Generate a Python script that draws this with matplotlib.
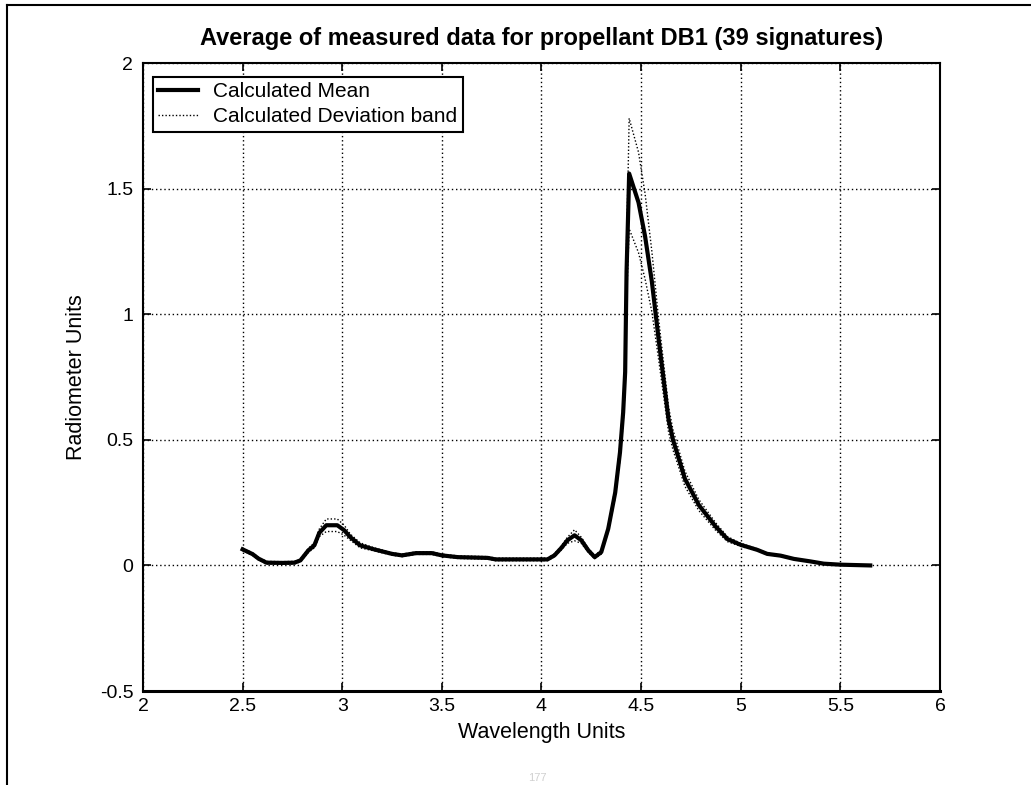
import matplotlib
matplotlib.use("Agg")
import matplotlib.pyplot as plt
from matplotlib.lines import Line2D
import numpy as np

plt.rcParams['font.family'] = ['Liberation Sans', 'DejaVu Sans']

# wavelength samples
wavelength = [2.50, 2.55, 2.58, 2.62, 2.70, 2.76, 2.79, 2.83, 2.86, 2.885,
              2.92, 2.975, 3.01, 3.04, 3.09, 3.16, 3.25, 3.30, 3.37, 3.45,
              3.50, 3.58, 3.73, 3.77, 3.91, 4.03, 4.065, 4.10, 4.13, 4.166,
              4.20, 4.235, 4.267, 4.30, 4.335, 4.37, 4.394, 4.41, 4.42, 4.427,
              4.436, 4.44, 4.487, 4.52, 4.554, 4.588, 4.638, 4.66, 4.72, 4.79,
              4.874, 4.933, 5.00, 5.083, 5.133, 5.20, 5.267, 5.35, 5.417, 5.50,
              5.65]

mean_signal = [0.064, 0.045, 0.027, 0.011, 0.010, 0.011, 0.020, 0.060, 0.080, 0.130,
               0.160, 0.160, 0.140, 0.113, 0.080, 0.064, 0.046, 0.040, 0.049, 0.049,
               0.040, 0.033, 0.030, 0.024, 0.024, 0.024, 0.040, 0.070, 0.100, 0.120,
               0.100, 0.060, 0.033, 0.053, 0.146, 0.290, 0.450, 0.610, 0.770, 1.170,
               1.430, 1.560, 1.445, 1.310, 1.130, 0.900, 0.580, 0.500, 0.345, 0.240,
               0.155, 0.105, 0.082, 0.062, 0.046, 0.039, 0.026, 0.016, 0.007, 0.003,
               0.000]

deviation = [0.005, 0.005, 0.005, 0.005, 0.005, 0.005, 0.005, 0.008, 0.010, 0.015,
             0.025, 0.025, 0.020, 0.012, 0.010, 0.006, 0.005, 0.005, 0.005, 0.005,
             0.005, 0.005, 0.005, 0.005, 0.005, 0.005, 0.006, 0.008, 0.012, 0.022,
             0.012, 0.008, 0.006, 0.008, 0.012, 0.020, 0.030, 0.040, 0.060, 0.120,
             0.180, 0.220, 0.200, 0.170, 0.120, 0.080, 0.050, 0.040, 0.030, 0.022,
             0.015, 0.010, 0.006, 0.004, 0.003, 0.003, 0.003, 0.002, 0.002, 0.002,
             0.002]

xticks = [2, 2.5, 3, 3.5, 4, 4.5, 5, 5.5, 6]
yticks = [-0.5, 0, 0.5, 1, 1.5, 2]

wl = np.array(wavelength)
mean = np.array(mean_signal)
dev = np.array(deviation)

fig = plt.figure(figsize=(10.31, 7.85), dpi=100)
ax = fig.add_axes([0.1387, 0.1197, 0.9117 - 0.1387, 0.9197 - 0.1197])

ax.plot(wl, mean, color='black', lw=3.0, solid_joinstyle='round')
ax.plot(wl, mean + dev, color='black', lw=1.0, ls=(0, (1, 1.5)))
ax.plot(wl, mean - dev, color='black', lw=1.0, ls=(0, (1, 1.5)))

ax.set_xlim(2, 6)
ax.set_ylim(-0.5, 2)
ax.set_xticks(xticks)
ax.set_yticks(yticks)
ax.set_xticklabels(['2', '2.5', '3', '3.5', '4', '4.5', '5', '5.5', '6'])
ax.set_yticklabels(['-0.5', '0', '0.5', '1', '1.5', '2'])
ax.grid(True, color='black', lw=1.0, ls=(0, (1, 2)))
ax.tick_params(direction='in', length=6, width=1.2, top=True, right=True,
               labelsize=14, pad=5)
ax.tick_params(axis='y', pad=7)
for s in ax.spines.values():
    s.set_linewidth(1.5)
ax.spines['bottom'].set_linewidth(2.2)

ax.set_title('Average of measured data for propellant DB1 (39 signatures)',
             fontsize=17, fontweight='bold', pad=13)
ax.set_xlabel('Wavelength Units', fontsize=15.5, labelpad=5)
ax.set_ylabel('Radiometer Units', fontsize=15.5, labelpad=9)

handles = [Line2D([], [], color='black', lw=3.0),
           Line2D([], [], color='black', lw=1.0, ls=(0, (1, 1.5)))]
leg = ax.legend(handles, ['Calculated Mean', 'Calculated Deviation band'],
                loc='upper left', bbox_to_anchor=(153 / 1031, 1 - 77 / 785),
                bbox_transform=fig.transFigure, borderaxespad=0,
                fontsize=15, fancybox=False, framealpha=1, edgecolor='black',
                borderpad=0.25, labelspacing=0.3, handlelength=1.9,
                handletextpad=0.75)
leg.get_frame().set_linewidth(1.5)

# page border of the scanned figure
fig.add_artist(Line2D([7 / 1031, 1.0], [1 - 5 / 785, 1 - 5 / 785],
                      transform=fig.transFigure, color='black', lw=1.5))
fig.add_artist(Line2D([7 / 1031, 7 / 1031], [0, 1 - 5 / 785],
                      transform=fig.transFigure, color='black', lw=1.5))
fig.text(0.521, 0.002, '177', ha='center', va='bottom', fontsize=8,
         color='#d0d0d0')

fig.savefig('out.png', dpi=100)
